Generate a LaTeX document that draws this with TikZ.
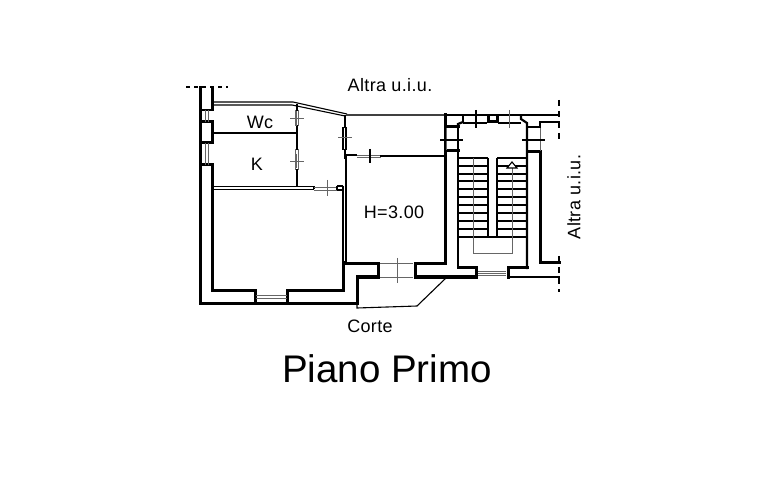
\documentclass[tikz,border=0pt]{standalone}
\usepackage{fontspec}
\setmainfont{Liberation Sans}
\newfontfamily\spaced[LetterSpace=2]{Liberation Sans}
\tikzset{
 wallk/.style={line width=3pt,line cap=rect,black},
 wallm/.style={line width=2.2pt,line cap=rect,black},
 walls/.style={line width=1.1pt,black},
 hair/.style={line width=0.7pt,black!60},
 lab/.style={inner sep=0pt,font=\spaced\fontsize{18}{18}\selectfont},
}
\begin{document}
\begin{tikzpicture}[x=1pt,y=-1pt]
\useasboundingbox (0,0) rectangle (764,492);
\fill[white] (0,0) rectangle (764,492);
% dashed limits
\draw[walls,dash pattern=on 4pt off 4pt] (186,87) -- (228,87);
\draw[wallm,line cap=butt,dash pattern=on 6pt off 5pt] (559,100) -- (559,140);
\draw[wallm,line cap=butt,dash pattern=on 6pt off 5pt] (559,256) -- (559,292);
% left outer wall
\draw[wallk] (200,88) -- (200,303) -- (356,303);
\draw[wallk] (212,88) -- (212,110);
\draw[wallm] (200,110) -- (212,110);
\draw[wallk] (200,122) -- (212,122) -- (212,143) -- (200,143) (200,165) -- (212,165) -- (212,290) -- (255,290);
\draw[hair] (205,110) -- (205,122) (208,110)--(208,122) (205,143) -- (205,165) (208,143)--(208,165);
% bottom window
\draw[wallk] (255,290) -- (255,303) (287,290) -- (287,303);
\draw[wallk] (287,290) -- (343,290) -- (343,263);
\draw[hair] (256,295) -- (287,295) (256,298) -- (287,298);
% top wall and slant
\draw[walls] (213,102) -- (293,102) -- (347,114);
\draw[walls] (213,105) -- (292,105) -- (345,116);
\draw[line width=2.5pt,black!75] (346,115) -- (445,115);
% Wc / K partitions
\draw[wallm] (213,133) -- (295,133);
\draw[walls] (213,186.5) -- (314,186.5) (213,189.5) -- (314,189.5) (314,186.5) -- (314,189.5);
\draw[wallm] (297,105) -- (297,110) (297,126) -- (297,149) (297,170) -- (297,186);
\draw[hair] (295,110) -- (295,126) (298,110) -- (298,126) (295,149) -- (295,170) (298,149) -- (298,170);
% door to corridor
\draw[hair] (314,187) -- (337,187) (314,190) -- (337,190);
\draw[walls] (337,186) -- (343,186) (337,190) -- (344,190) (337,186) -- (337,190);
% wall between corridor and room
\draw[walls] (343,186) -- (343,263);
\draw[wallm] (346,157) -- (346,263);
\draw[wallm] (345,116) -- (345,127) (345,150) -- (345,158);
\draw[walls] (343,127) -- (343,150) (346,127) -- (346,150);
% room H
\draw[wallm] (345,155) -- (356,155);
\draw[hair] (357,155) -- (381,155) (357,157) -- (381,157);
\draw[wallm] (381,156) -- (445,156);
\draw[wallk] (445,115) -- (445,263);
\draw[wallk] (345,264) -- (378,264) -- (378,277) -- (357,277);
\draw[wallk] (445,264) -- (415,264) -- (415,277) -- (476,277);
\draw[wallk] (357,277) -- (357,303);
\draw[hair] (380,263) -- (413,263) (380,277) -- (413,277);
% balcony
\draw[walls] (357,303) -- (357,308) -- (417,306) -- (446,278);
% pier by stair
\draw[wallk] (446,127) -- (458,127) (446,151) -- (458,151);
\draw[hair] (446,128) -- (446,150);
% stair outer
\draw[wallm] (445,115) -- (559,115);
\draw[wallm] (458,127) -- (458,124) -- (463,122);
\draw[wallm] (458,124) -- (458,268);
\draw[wallm] (463,116) -- (463,122);
\draw[walls] (463,123) -- (487,123) (498,123) -- (521,123);
\draw[wallk] (488,117) -- (488,122) -- (497,122) -- (497,117);
\draw[wallm] (521,116) -- (521,119) -- (527,123) -- (527,268);
\draw[wallm] (527,127) -- (540,127) -- (540,122) -- (559,122);
\draw[wallk] (527,152) -- (540,152) -- (540,263) -- (559,263);
\draw[hair] (540,128) -- (540,151);
\draw[wallk] (458,268) -- (476,268) -- (476,277);
\draw[wallk] (508,277) -- (508,268) -- (527,268);
\draw[wallm] (508,277) -- (559,277);
\draw[hair] (478,271) -- (506,271) (478,273) -- (506,273) (478,275) -- (506,275);
% treads
\foreach \yy in {158,166,174,181,189,197,205,213,221,229,237}{
 \draw[walls] (458,\yy) -- (488,\yy) (497,\yy) -- (527,\yy);}
\draw[walls] (488,237) -- (497,237);
\draw[walls] (488,158) -- (488,237) (497,158) -- (497,237);
\draw[hair] (473,158) -- (473,253) -- (512,253) -- (512,168);
\draw[walls,fill=white] (507,168) -- (512,162) -- (517,168) -- cycle;
% crosses
\draw[hair] (290,118) -- (304,118) (296,111) -- (296,126);
\draw[hair] (290,161) -- (304,161) (296,154) -- (296,168);
\draw[hair] (327,180) -- (327,196);
\draw[hair] (338,137) -- (352,137);
\draw[walls] (370,149) -- (370,163);
\draw[hair] (397,258) -- (397,283);
\draw[walls] (476,110) -- (476,128);
\draw[hair] (509,110) -- (509,128);
\draw[walls] (440,140) -- (463,140) (522,140) -- (545,140);
% labels
\node[lab,anchor=center] (altratop) at (390,85) {Altra u.i.u.};
\node[lab,anchor=center,rotate=90] (altraright) at (574,197) {Altra u.i.u.};
\node[lab,anchor=center] (wc) at (260,122) {Wc};
\node[lab,anchor=center] (k) at (257,164) {K};
\node[lab,anchor=center] (h) at (394,212) {H=3.00};
\node[lab,anchor=center] (corte) at (370,326) {Corte};
\node[inner sep=0pt,font=\fontsize{38.5}{38}\selectfont] (title) at (387,369) {Piano Primo};
\end{tikzpicture}
\end{document}
